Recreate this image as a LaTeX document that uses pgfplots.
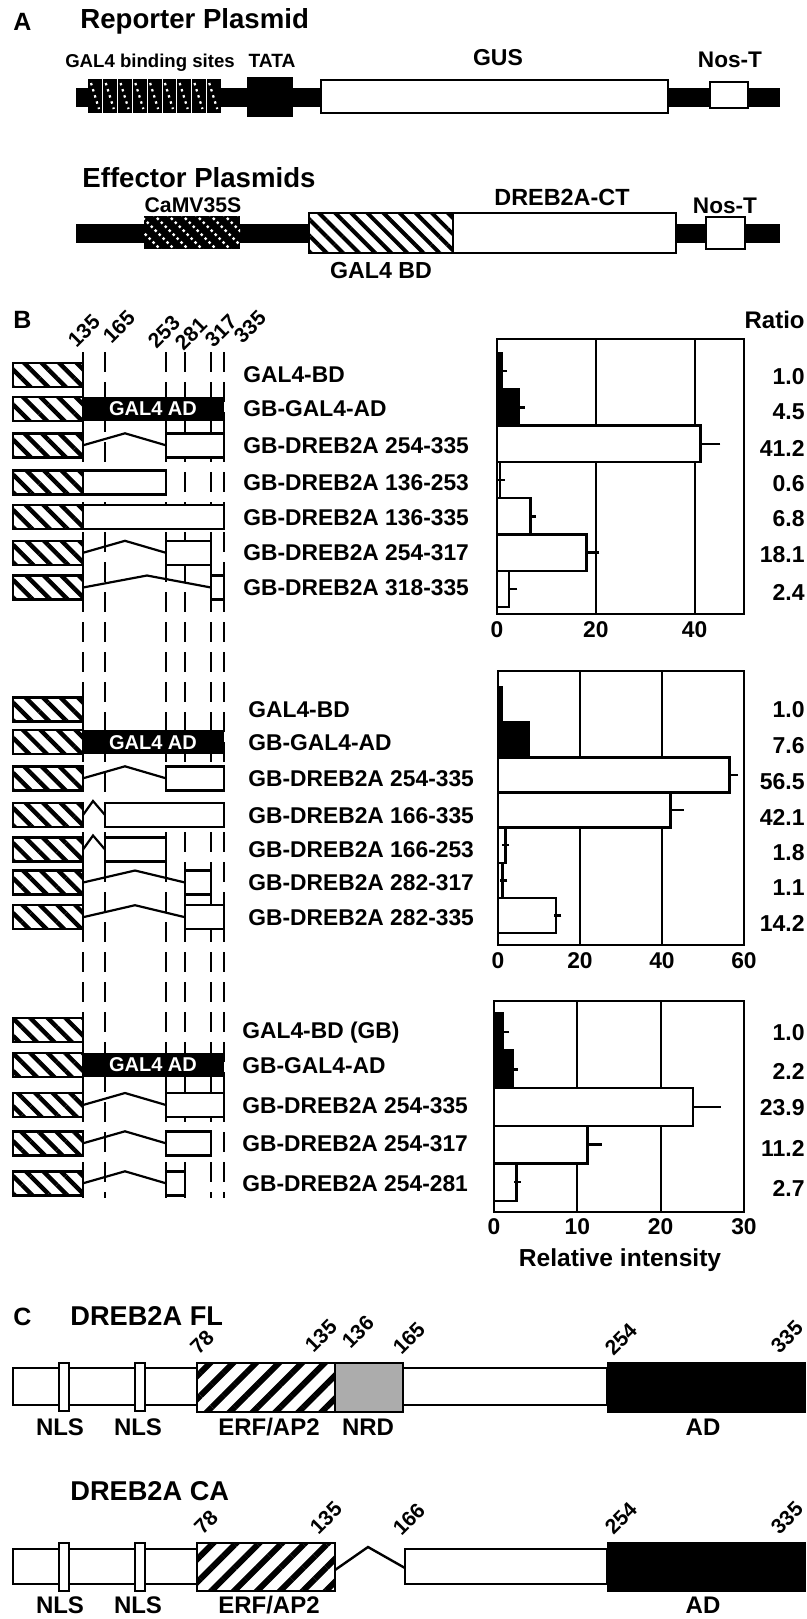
\documentclass[border=0pt]{standalone}
\usepackage{fontspec}
\setmainfont{Liberation Sans}
\usepackage{graphicx}
\usepackage{pgfplots}
\pgfplotsset{compat=1.18}
\usetikzlibrary{patterns.meta}
\newcommand\fs[1]{\fontsize{#1}{#1}\selectfont\bfseries}
\definecolor{nrd}{RGB}{172,172,172}
% panel B helpers (pixel coordinates, y downward)
\newcommand\gb[1]{\draw[line width=1.2pt, preaction={fill=white}, pattern={Lines[angle=-45,distance=6.2pt,line width=2.2pt]}] (13,{#1-12}) rectangle (83,{#1+12});}
\newcommand\wb[3]{\draw[line width=1.2pt, fill=white] (#1,{#3-12}) rectangle (#2,{#3+12});}
\newcommand\lk[3]{\draw[line width=1.1pt] (83,#3) -- (#1,{#3-12}) -- (#2,#3);}
\newcommand\zz[1]{\draw[line width=1.1pt] (83,#1) -- (93,{#1-14}) -- (105,#1);}
\newcommand\adbox[1]{\fill[black] (83,{#1-12}) rectangle (224,{#1+12}); \node[text=white, font=\fs{10}, inner sep=0pt] at (153,#1) {GAL4 AD};}
\newcommand\lb[3]{\node[anchor=base west, font=\fs{11.4}, inner sep=0pt] at (#1,{#2+8}) {#3};}
\newcommand\rt[2]{\node[anchor=east, font=\fs{11.5}, inner sep=0pt] at (805,#1) {#2};}
\newcommand\rn[3]{\node[font=\fs{10.5}, inner sep=0pt] at (#1,#2) {\rotatebox{45}{#3}};}
\newcommand\rp[3]{\pgftext[at={\pgfpointxy{#1}{#2}},rotate=45]{\fs{10.5}#3}}
\newcommand\rlab[3]{\node[rotate=45, font=\fs{10.5}, inner sep=0pt] at ({#1*0.5pt},{-#2*0.5pt}) {#3};}
\pgfplotsset{
  bchart/.style={scale only axis, anchor=north west, xbar, bar width=1, y dir=reverse,
    ytick=\empty, xmin=0, axis line style={line width=1.4pt},
    xmajorgrids, grid style={black, line width=1.1pt},
    xtick style={draw=none}, major tick length=0pt,
    xticklabel style={font=\fs{11.4}}, /pgf/number format/assume math mode=true,
    clip=false},
  bblack/.style={fill=black, draw=black, line width=1.2pt, bar shift=0pt,
    error bars/.cd, x dir=plus, x explicit,
    error bar style={line width=1.2pt, black},
    error mark options={black, line width=1.2pt, mark size=1.8pt}},
  bwhite/.style={fill=white, draw=black, line width=1.2pt, bar shift=0pt,
    error bars/.cd, x dir=plus, x explicit,
    error bar style={line width=1.2pt, black},
    error mark options={black, line width=1.2pt, mark size=1.8pt}},
}
\begin{document}
\begin{tikzpicture}
\begin{scope}[x=0.5pt,y=-0.5pt]
\path[use as bounding box] (0,0) rectangle (807,1619);
% ---------------- Panel A
\node[anchor=base west, font=\fs{12.5}, inner sep=0pt] at (13,30) {A};
\node[anchor=base west, font=\fs{13.8}, inner sep=0pt] at (80,28) {Reporter Plasmid};
\node[anchor=base, font=\fs{9.3}, inner sep=0pt] at (150,67) {GAL4 binding sites};
\node[anchor=base, font=\fs{9.6}, inner sep=0pt] at (272,67) {TATA};
\node[anchor=base, font=\fs{11.5}, inner sep=0pt] at (498,65) {GUS};
\node[anchor=base, font=\fs{11.3}, inner sep=0pt] at (730,67) {Nos-T};
\fill (76,88) rectangle (780,107);
\fill (88,79) rectangle (221,113);
\foreach \i in {1,...,8} \draw[white, line width=0.4pt] ({88+\i*14.78},79) -- ({88+\i*14.78},113);
\foreach \i in {0,...,8} \draw[white, line width=1.1pt, dash pattern=on 1.2pt off 2pt] ({88+\i*14.78+3},83) -- ({88+\i*14.78+11},109);
\fill (247,77) rectangle (293,117);
\draw[line width=1.1pt, fill=white] (321,80) rectangle (668,113);
\draw[line width=1.1pt, fill=white] (710,82) rectangle (748,108);
\node[anchor=base west, font=\fs{13.8}, inner sep=0pt] at (82,187) {Effector Plasmids};
\node[anchor=base, font=\fs{10.6}, inner sep=0pt] at (193,212) {CaMV35S};
\node[anchor=base, font=\fs{11.7}, inner sep=0pt] at (562,205) {DREB2A-CT};
\node[anchor=base, font=\fs{11.3}, inner sep=0pt] at (725,213) {Nos-T};
\fill (76,224) rectangle (780,243);
\begin{scope}
\clip (144,216) rectangle (240,249);
\fill (144,216) rectangle (240,249);
\foreach \i in {0,...,9} \draw[white, line width=1.2pt, dash pattern=on 1.2pt off 1.6pt] ({125+\i*14},214) -- ({125+\i*14+37},251);
\end{scope}
\draw[line width=1.1pt, preaction={fill=white}, pattern={Lines[angle=-45,distance=5.7pt,line width=2pt]}] (309,213) rectangle (453,253);
\draw[line width=1.1pt, fill=white] (453,213) rectangle (676,253);
\draw[line width=1.1pt, fill=white] (706,217) rectangle (745,249);
\node[anchor=base, font=\fs{11.6}, inner sep=0pt] at (381,278) {GAL4 BD};
% ---------------- Panel B
\node[anchor=base west, font=\fs{12.5}, inner sep=0pt] at (13,328) {B};
\foreach \xx in {83,105,166,185,211,224} \draw[line width=1.3pt, dash pattern=on 10pt off 5pt] (\xx,352) -- (\xx,1198);
\node[anchor=base east, font=\fs{12}, inner sep=0pt] at (805,328) {Ratio};
% section 1
\gb{374.7}\lb{243}{374.7}{GAL4-BD}
\gb{408.7}\adbox{408.7}\lb{243}{408.7}{GB-GAL4-AD}
\gb{445.3}\lk{125}{166}{445.3}\wb{166}{224}{445.3}\lb{243}{445.3}{GB-DREB2A 254-335}
\gb{482.5}\wb{83}{166}{482.5}\lb{243}{482.5}{GB-DREB2A 136-253}
\gb{517.2}\wb{83}{224}{517.2}\lb{243}{517.2}{GB-DREB2A 136-335}
\gb{552.8}\lk{125}{166}{552.8}\wb{166}{211}{552.8}\lb{243}{552.8}{GB-DREB2A 254-317}
\gb{587.5}\lk{147}{211}{587.5}\wb{211}{224}{587.5}\lb{243}{587.5}{GB-DREB2A 318-335}
\rt{377}{1.0}\rt{412}{4.5}\rt{448}{41.2}\rt{484}{0.6}\rt{519}{6.8}\rt{555}{18.1}\rt{592}{2.4}
% section 2
\gb{709.5}\lb{248}{709.5}{GAL4-BD}
\gb{742.2}\adbox{742.2}\lb{248}{742.2}{GB-GAL4-AD}
\gb{778.3}\lk{125}{166}{778.3}\wb{166}{224}{778.3}\lb{248}{778.3}{GB-DREB2A 254-335}
\gb{815}\zz{815}\wb{105}{224}{815}\lb{248}{815}{GB-DREB2A 166-335}
\gb{849.5}\zz{849.5}\wb{105}{166}{849.5}\lb{248}{849.5}{GB-DREB2A 166-253}
\gb{882.5}\lk{135}{185}{882.5}\wb{185}{211}{882.5}\lb{248}{882.5}{GB-DREB2A 282-317}
\gb{917.2}\lk{135}{185}{917.2}\wb{185}{224}{917.2}\lb{248}{917.2}{GB-DREB2A 282-335}
\rt{710}{1.0}\rt{746}{7.6}\rt{782}{56.5}\rt{817}{42.1}\rt{853}{1.8}\rt{888}{1.1}\rt{923}{14.2}
% section 3
\gb{1030}\lb{242}{1030}{GAL4-BD (GB)}
\gb{1065}\adbox{1065}\lb{242}{1065}{GB-GAL4-AD}
\gb{1105}\lk{125}{166}{1105}\wb{166}{224}{1105}\lb{242}{1105}{GB-DREB2A 254-335}
\gb{1143.3}\lk{125}{166}{1143.3}\wb{166}{211}{1143.3}\lb{242}{1143.3}{GB-DREB2A 254-317}
\gb{1183.3}\lk{125}{166}{1183.3}\wb{166}{185}{1183.3}\lb{242}{1183.3}{GB-DREB2A 254-281}
\rt{1033}{1.0}\rt{1071}{2.2}\rt{1108}{23.9}\rt{1148}{11.2}\rt{1188}{2.7}
\node[font=\fs{12.3}, inner sep=0pt] at (620,1260) {Relative intensity};
% ---------------- Panel C
\node[anchor=base west, font=\fs{12.5}, inner sep=0pt] at (13,1325) {C};
\node[anchor=base west, font=\fs{13.6}, inner sep=0pt] at (70,1325) {DREB2A FL};
\draw[line width=1.3pt, fill=white] (13,1368) rectangle (197,1405);
\draw[line width=1.3pt, fill=white] (59,1363) rectangle (69,1411);
\draw[line width=1.3pt, fill=white] (135,1363) rectangle (145,1411);
\draw[line width=1.3pt, preaction={fill=white}, pattern={Lines[angle=45,distance=8.1pt,line width=3pt]}] (197,1363) rectangle (335,1412);
\draw[line width=1.3pt, fill=nrd] (335,1363) rectangle (403,1412);
\draw[line width=1.3pt, fill=white] (403,1368) rectangle (607,1405);
\fill (607,1362) rectangle (806,1413);
\rp{202}{1342}{78}\rp{321}{1336}{135}\rp{358}{1332}{136}\rp{409}{1338}{165}\rp{621}{1339}{254}\rp{787}{1337}{335}
\node[font=\fs{12}, inner sep=0pt] at (60,1427) {NLS};
\node[font=\fs{12}, inner sep=0pt] at (138,1427) {NLS};
\node[font=\fs{12}, inner sep=0pt] at (269,1427) {ERF/AP2};
\node[font=\fs{12}, inner sep=0pt] at (368,1427) {NRD};
\node[font=\fs{12}, inner sep=0pt] at (703,1427) {AD};
\node[anchor=base west, font=\fs{13.6}, inner sep=0pt] at (70,1500) {DREB2A CA};
\draw[line width=1.3pt, fill=white] (13,1549) rectangle (197,1584);
\draw[line width=1.3pt, fill=white] (59,1543) rectangle (69,1591);
\draw[line width=1.3pt, fill=white] (135,1543) rectangle (145,1591);
\draw[line width=1.3pt, preaction={fill=white}, pattern={Lines[angle=45,distance=8.1pt,line width=3pt]}] (197,1543) rectangle (335,1591);
\draw[line width=1.2pt] (335,1570) -- (368,1547) -- (405,1568);
\draw[line width=1.3pt, fill=white] (405,1549) rectangle (607,1584);
\fill (607,1542) rectangle (806,1592);
\rn{206}{1522}{78}\rn{326}{1518}{135}\rn{409}{1519}{166}\rn{621}{1518}{254}\rn{787}{1518}{335}
\node[font=\fs{12}, inner sep=0pt] at (60,1605) {NLS};
\node[font=\fs{12}, inner sep=0pt] at (138,1605) {NLS};
\node[font=\fs{12}, inner sep=0pt] at (269,1605) {ERF/AP2};
\node[font=\fs{12}, inner sep=0pt] at (703,1605) {AD};
\end{scope}
% rotated position labels of panel B (outside the scaled scope)
\rlab{84}{331}{135}\rlab{119}{327}{165}\rlab{164}{332}{253}\rlab{191}{334}{281}\rlab{221}{331}{317}\rlab{250}{327}{335}
% ---------------- Bar charts
\begin{axis}[bchart, at={(248.5pt,-169.5pt)}, width=123.5pt, height=137.5pt,
  xmax=50, ymin=0.114, ymax=7.693, xtick={0,20,40}]
\addplot[bblack] table[x=v,y=p,x error=e]{
p v e
1 1.0 0.3
2 4.5 0.4
};
\addplot[bwhite] table[x=v,y=p,x error=e]{
p v e
3 41.2 3.3
4 0.6 0.3
5 6.8 0.4
6 18.1 1.9
7 2.4 1.0
};
\end{axis}
\begin{axis}[bchart, at={(249pt,-335.5pt)}, width=123pt, height=137pt,
  xmax=60, ymin=0.045, ymax=7.84, xtick={0,20,40,60}]
\addplot[bblack] table[x=v,y=p,x error=e]{
p v e
1 1.0 0.0
2 7.6 0.0
};
\addplot[bwhite] table[x=v,y=p,x error=e]{
p v e
3 56.5 1.2
4 42.1 2.3
5 1.8 0.1
6 1.1 0.3
7 14.2 0.4
};
\end{axis}
\begin{axis}[bchart, at={(247pt,-500.5pt)}, width=125pt, height=105.5pt,
  xmax=30, ymin=0.18, ymax=5.79, xtick={0,10,20,30}]
\addplot[bblack] table[x=v,y=p,x error=e]{
p v e
1 1.0 0.4
2 2.2 0.2
};
\addplot[bwhite] table[x=v,y=p,x error=e]{
p v e
3 23.9 2.9
4 11.2 1.3
5 2.7 0.1
};
\end{axis}
\end{tikzpicture}
\end{document}
